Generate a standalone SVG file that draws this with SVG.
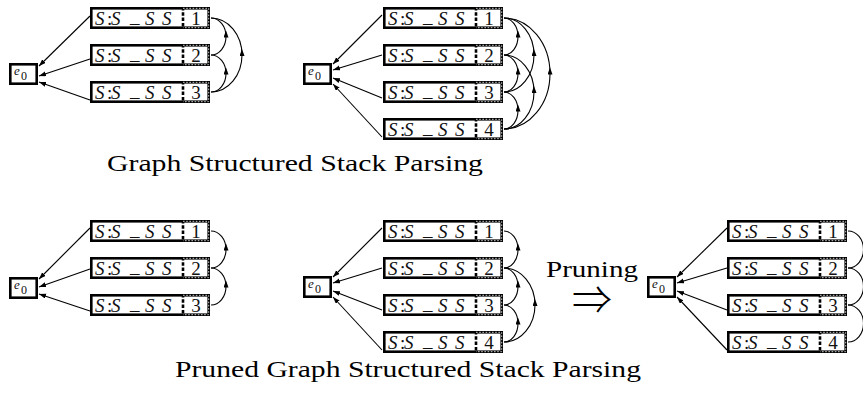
<svg xmlns="http://www.w3.org/2000/svg" xmlns:xlink="http://www.w3.org/1999/xlink" width="863" height="400" viewBox="0 0 863 400">
  <defs>
    <style>
      .box{fill:#fff;stroke:#000;stroke-width:2.6}
      .div{stroke:#000;stroke-width:2.6;stroke-dasharray:3.5 1.8}
      .dot{fill:none;stroke:#fff;stroke-width:0.8;stroke-dasharray:1.6 1.6}
      .lab{font-family:"Liberation Serif","Times New Roman",serif;font-style:italic;font-size:19px;fill:#111}
      .up-colon{font-style:normal}
      .num{font-family:"Liberation Serif","Times New Roman",serif;font-size:19px;fill:#111;text-anchor:middle}
      .ev{font-family:"Liberation Serif","Times New Roman",serif;fill:#111}
      .edge{fill:none;stroke:#000;stroke-width:1.1}
      .in{marker-end:url(#tip)}
      .up{marker-mid:url(#mid)}
      .cap{font-family:"Liberation Serif","Times New Roman",serif;font-size:24px;fill:#000}
      .implies{font-family:"Noto Sans CJK JP","DejaVu Sans",sans-serif;font-size:40px;font-weight:300;fill:#000}
    </style>
    <marker id="tip" markerUnits="userSpaceOnUse" viewBox="0 0 8 6" markerWidth="8" markerHeight="6" refX="7" refY="2.5" orient="auto">
      <path d="M0,0 L7,2.5 L0,5 z" fill="#000"/>
    </marker>
    <marker id="mid" markerUnits="userSpaceOnUse" viewBox="0 0 8 6" markerWidth="8" markerHeight="6" refX="1" refY="2.5" orient="auto">
      <path d="M0,0 L7,2.5 L0,5 z" fill="#000"/>
    </marker>
    <!-- stack cell: label part + dashed number part, local size 120x22 -->
    <g id="cell">
      <rect class="box" x="1.3" y="1.3" width="117.4" height="19.4"/>
      <line class="div" x1="93" y1="0" x2="93" y2="22"/>
      <polyline class="dot" points="93,1.3 118.7,1.3 118.7,20.7 93,20.7"/>
      <text class="lab" y="17.5"><tspan x="5">S</tspan><tspan x="17" class="up-colon">:</tspan><tspan x="21">S</tspan> <tspan x="40" dy="-1.5">_</tspan><tspan x="55" dy="1.5">S</tspan> <tspan x="72">S</tspan></text>
    </g>
    <!-- root vertex e0, local size 29x22 -->
    <g id="root">
      <rect class="box" x="1.3" y="1.3" width="26.4" height="19.4"/>
      <text class="ev" x="5" y="12" font-size="13" font-style="italic">e</text>
      <text class="ev" x="12" y="17" font-size="12">0</text>
    </g>
  </defs>

  <rect width="863" height="400" fill="#fff"/>

  <!-- ===== connectors ===== -->
  <g id="connectors">
    <!-- panel A: 3 stacks -->
    <path class="edge in" d="M90,16 L39,66"/>
    <path class="edge in" d="M90,59 L39,76"/>
    <path class="edge in" d="M90,100 L39,82"/>
    <path class="edge up" d="M211,55 C219.3,55 226,46.7 226,36.5 C226,26.3 219.3,18 211,18"/>
    <path class="edge up" d="M211,92 C219.3,92 226,83.7 226,73.5 C226,63.3 219.3,55 211,55"/>
    <path class="edge up" d="M211,92 C228.1,92 242,75.4 242,55 C242,34.6 228.1,18 211,18"/>

    <!-- panel B: 4 stacks, fully linked -->
    <path class="edge in" d="M382,15 L333,64"/>
    <path class="edge in" d="M382,55 L333,70"/>
    <path class="edge in" d="M382,98 L333,78"/>
    <path class="edge in" d="M382,137 L333,84"/>
    <path class="edge up" d="M504,55 C511.7,55 518,46.7 518,36.5 C518,26.3 511.7,18 504,18"/>
    <path class="edge up" d="M504,92 C511.7,92 518,83.7 518,73.5 C518,63.3 511.7,55 504,55"/>
    <path class="edge up" d="M504,129 C511.7,129 518,120.7 518,110.5 C518,100.3 511.7,92 504,92"/>
    <path class="edge up" d="M504,92 C520.6,92 534,75.4 534,55 C534,34.6 520.6,18 504,18"/>
    <path class="edge up" d="M504,129 C520.6,129 534,112.4 534,92 C534,71.6 520.6,55 504,55"/>
    <path class="edge up" d="M504,129 C529.4,129 550,104.1 550,73.5 C550,42.9 529.4,18 504,18"/>

    <!-- panel C: 3 stacks, pruned -->
    <path class="edge in" d="M90,228 L39,279"/>
    <path class="edge in" d="M90,269 L39,287"/>
    <path class="edge in" d="M90,311 L39,294"/>
    <path class="edge up" d="M211,268 C219.3,268 226,259.7 226,249.5 C226,239.3 219.3,231 211,231"/>
    <path class="edge up" d="M211,305 C219.3,305 226,296.7 226,286.5 C226,276.3 219.3,268 211,268"/>

    <!-- panel D: 4 stacks, pruned -->
    <path class="edge in" d="M382,228 L333,277"/>
    <path class="edge in" d="M382,268 L333,283"/>
    <path class="edge in" d="M382,310 L333,291"/>
    <path class="edge in" d="M382,350 L333,297"/>
    <path class="edge up" d="M504,268 C511.7,268 518,259.7 518,249.5 C518,239.3 511.7,231 504,231"/>
    <path class="edge up" d="M504,305 C511.7,305 518,296.7 518,286.5 C518,276.3 511.7,268 504,268"/>
    <path class="edge up" d="M504,342 C511.7,342 518,333.7 518,323.5 C518,313.3 511.7,305 504,305"/>
    <path class="edge up" d="M504,342 C521.1,342 535,325.4 535,305 C535,284.6 521.1,268 504,268"/>

    <!-- panel E: after pruning -->
    <path class="edge in" d="M727,228 L677,277"/>
    <path class="edge in" d="M727,268 L677,283"/>
    <path class="edge in" d="M727,310 L677,291"/>
    <path class="edge in" d="M727,350 L677,297"/>
    <path class="edge" d="M848,268 C856.8,268 863.5,259.7 863.5,249.5 C863.5,239.3 856.8,231 848,231"/>
    <path class="edge" d="M848,305 C856.8,305 863.5,296.7 863.5,286.5 C863.5,276.3 856.8,268 848,268"/>
    <path class="edge" d="M848,342 C856.8,342 863.5,333.7 863.5,323.5 C863.5,313.3 856.8,305 848,305"/>
  </g>

  <!-- ===== nodes ===== -->
  <g id="a-e0" transform="translate(9,63)"><use xlink:href="#root"/></g>
  <g id="a-1" transform="translate(90,7)"><use xlink:href="#cell"/><text class="num" x="106" y="17.5">1</text></g>
  <g id="a-2" transform="translate(90,44)"><use xlink:href="#cell"/><text class="num" x="106" y="17.5">2</text></g>
  <g id="a-3" transform="translate(90,81)"><use xlink:href="#cell"/><text class="num" x="106" y="17.5">3</text></g>

  <g id="b-e0" transform="translate(303,63)"><use xlink:href="#root"/></g>
  <g id="b-1" transform="translate(383,7)"><use xlink:href="#cell"/><text class="num" x="106" y="17.5">1</text></g>
  <g id="b-2" transform="translate(383,44)"><use xlink:href="#cell"/><text class="num" x="106" y="17.5">2</text></g>
  <g id="b-3" transform="translate(383,81)"><use xlink:href="#cell"/><text class="num" x="106" y="17.5">3</text></g>
  <g id="b-4" transform="translate(383,118)"><use xlink:href="#cell"/><text class="num" x="106" y="17.5">4</text></g>

  <g id="c-e0" transform="translate(9,277)"><use xlink:href="#root"/></g>
  <g id="c-1" transform="translate(90,220)"><use xlink:href="#cell"/><text class="num" x="106" y="17.5">1</text></g>
  <g id="c-2" transform="translate(90,257)"><use xlink:href="#cell"/><text class="num" x="106" y="17.5">2</text></g>
  <g id="c-3" transform="translate(90,294)"><use xlink:href="#cell"/><text class="num" x="106" y="17.5">3</text></g>

  <g id="d-e0" transform="translate(303,276)"><use xlink:href="#root"/></g>
  <g id="d-1" transform="translate(383,220)"><use xlink:href="#cell"/><text class="num" x="106" y="17.5">1</text></g>
  <g id="d-2" transform="translate(383,257)"><use xlink:href="#cell"/><text class="num" x="106" y="17.5">2</text></g>
  <g id="d-3" transform="translate(383,294)"><use xlink:href="#cell"/><text class="num" x="106" y="17.5">3</text></g>
  <g id="d-4" transform="translate(383,331)"><use xlink:href="#cell"/><text class="num" x="106" y="17.5">4</text></g>

  <g id="e-e0" transform="translate(647,276)"><use xlink:href="#root"/></g>
  <g id="e-1" transform="translate(727,220)"><use xlink:href="#cell"/><text class="num" x="106" y="17.5">1</text></g>
  <g id="e-2" transform="translate(727,257)"><use xlink:href="#cell"/><text class="num" x="106" y="17.5">2</text></g>
  <g id="e-3" transform="translate(727,294)"><use xlink:href="#cell"/><text class="num" x="106" y="17.5">3</text></g>
  <g id="e-4" transform="translate(727,331)"><use xlink:href="#cell"/><text class="num" x="106" y="17.5">4</text></g>

  <!-- ===== captions ===== -->
  <g id="captions">
    <text class="cap" x="107" y="171" textLength="376" lengthAdjust="spacingAndGlyphs">Graph Structured Stack Parsing</text>
    <text class="cap" x="175" y="377" textLength="466" lengthAdjust="spacingAndGlyphs">Pruned Graph Structured Stack Parsing</text>
    <text class="cap" x="546" y="277" font-size="23" textLength="92" lengthAdjust="spacingAndGlyphs">Pruning</text>
    <text class="implies" x="572" y="314" textLength="40" lengthAdjust="spacingAndGlyphs">⇒</text>
  </g>
</svg>
